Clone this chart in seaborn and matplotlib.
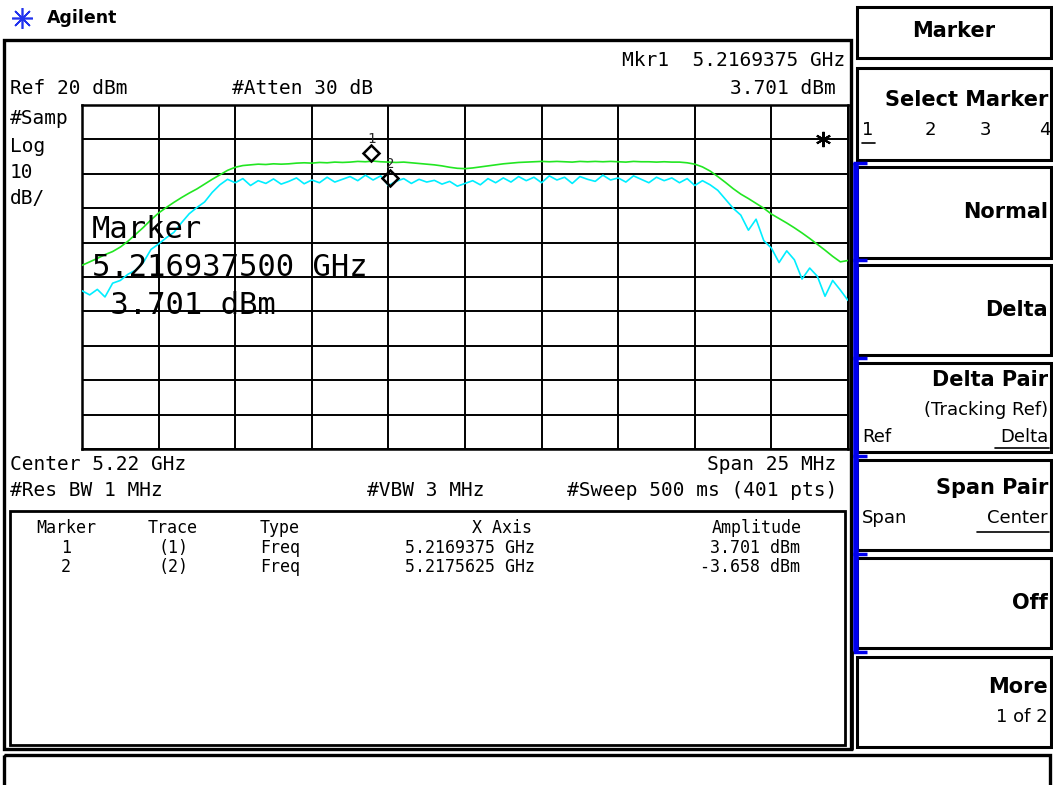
import matplotlib
matplotlib.use('Agg')

import matplotlib.pyplot as plt
import matplotlib.transforms as mtransforms
from matplotlib.patches import Rectangle
import numpy as np
import pandas as pd
import seaborn as sns

# sweep setup (Center 5.22 GHz, Span 25 MHz), 101 of the 401 display points
sweep_start = 5.2075
sweep_stop = 5.2325
n_points = 101

# trace 1 (green) in dBm
trace1_dbm = [
    -26.6, -25.6, -24.6, -23.5, -22.6, -21.3, -19.6, -17.6, -15.6, -13.4,
    -11.4, -9.8, -8.3, -6.9, -5.6, -4.4, -3.0, -1.6, -0.3, 1.0,
    1.9, 2.4, 2.6, 2.8, 2.7, 2.9, 2.8, 2.9, 3.1, 3.2,
    3.1, 3.3, 3.2, 3.4, 3.3, 3.4, 3.6, 3.5, 3.7, 3.5,
    3.4, 3.3, 3.4, 3.2, 3.0, 2.8, 2.6, 2.3, 1.9, 1.6,
    1.5, 1.7, 2.0, 2.3, 2.6, 2.9, 3.1, 3.3, 3.4, 3.5,
    3.6, 3.5, 3.6, 3.5, 3.4, 3.6, 3.5, 3.6, 3.5, 3.6,
    3.5, 3.4, 3.6, 3.5, 3.5, 3.4, 3.5, 3.4, 3.4, 3.2,
    2.8, 2.0, 0.8, -0.8, -2.5, -4.3, -5.9, -7.2, -8.6, -10.0,
    -11.7, -13.0, -14.3, -15.7, -17.2, -18.8, -20.5, -22.2, -24.0, -25.6,
    -25.2,
]

# trace 2 (cyan) in dBm
trace2_dbm = [
    -34.0, -35.2, -33.6, -35.8, -31.8, -31.0, -29.2, -28.0, -25.8, -22.0,
    -20.4, -18.6, -17.0, -14.2, -11.6, -9.8, -8.2, -5.4, -3.2, -1.6,
    -2.6, -1.4, -3.4, -2.0, -2.8, -1.5, -3.0, -2.2, -1.2, -2.9,
    -1.8, -2.6, -1.0, -2.4, -1.6, -0.8, -2.0, -0.4, -1.8, -0.6,
    -3.4, -2.2, -1.4, -2.8, -1.6, -2.4, -1.9, -3.0, -2.2, -3.6,
    -2.8, -2.0, -3.2, -1.4, -2.6, -1.2, -2.4, -0.8, -2.0, -1.0,
    -2.6, -0.6, -1.8, -1.0, -2.8, -0.8, -1.6, -2.2, -0.4, -1.8,
    -1.2, -2.4, -0.6, -1.6, -2.6, -1.0, -2.0, -1.2, -2.6, -1.4,
    -3.4, -2.0, -3.2, -4.8, -7.4, -10.0, -12.0, -16.4, -13.2, -19.4,
    -21.6, -25.8, -22.4, -25.0, -30.6, -27.4, -29.8, -35.6, -31.0, -33.8,
    -36.8,
]

# markers
marker_ids = ['1', '2']
marker_freq = [5.2169375, 5.2175625]
marker_amp = [3.701, -3.658]

ref_level = 20
db_per_div = 10

W, H = 1053, 785
sns.set_style('white')
plt.rcParams['font.family'] = ['DejaVu Sans']
MONO = 'DejaVu Sans Mono'

fig = plt.figure(figsize=(W / 100, H / 100), dpi=100)

# --- trace graticule -------------------------------------------------------
gx0, gy0, gx1, gy1 = 82, 105, 848, 449
ax = fig.add_axes([gx0 / W, 1 - gy1 / H, (gx1 - gx0) / W, (gy1 - gy0) / H])
ax.set_facecolor('white')

freq = np.linspace(sweep_start, sweep_stop, n_points)
df = pd.DataFrame({
    'freq': np.concatenate([freq, freq]),
    'dbm': trace1_dbm + trace2_dbm,
    'trace': ['1'] * n_points + ['2'] * n_points,
})
sns.lineplot(data=df, x='freq', y='dbm', hue='trace',
             palette={'1': '#22e622', '2': '#00eeff'},
             linewidth=1.2, legend=False, ax=ax, zorder=3)

ax.set_xlim(sweep_start, sweep_stop)
ax.set_ylim(ref_level - 10 * db_per_div, ref_level)
ax.set_xticks(np.linspace(sweep_start, sweep_stop, 11))
ax.set_yticks(np.arange(ref_level - 10 * db_per_div, ref_level + 1, db_per_div))
ax.grid(True, color='black', linewidth=1.4)
ax.tick_params(length=0, labelbottom=False, labelleft=False)
ax.set_xlabel('')
ax.set_ylabel('')
for s in ax.spines.values():
    s.set_color('black')
    s.set_linewidth(1.8)

# marker diamonds are drawn just above the marked point
dia_tr = mtransforms.offset_copy(ax.transData, fig=fig, y=8, units='dots')
lab_tr = mtransforms.offset_copy(ax.transData, fig=fig, y=22, units='dots')
for mid, f, a in zip(marker_ids, marker_freq, marker_amp):
    ax.plot([f], [a], marker='D', ms=8, mfc='none', mec='black', mew=1.8,
            transform=dia_tr, zorder=5, clip_on=False)
    ax.text(f, a, mid, transform=lab_tr, ha='center', va='center',
            fontsize=10, family=MONO, zorder=5)

# --- screen furniture in pixel coordinates ---------------------------------
ov = fig.add_axes([0, 0, 1, 1])
ov.set_xlim(0, W)
ov.set_ylim(H, 0)
ov.axis('off')
ov.patch.set_alpha(0)
ov.set_zorder(5)


def box(x0, y0, x1, y1, lw=2.2, color='black'):
    ov.add_patch(Rectangle((x0, y0), x1 - x0, y1 - y0, fill=False,
                           edgecolor=color, linewidth=lw))


def txt(x, y, s, size=14, ha='left', family=MONO, weight='normal'):
    ov.text(x, y, s, fontsize=size, ha=ha, va='center', family=family,
            weight=weight, color='black')


# logo
ov.plot([22], [18], marker=(8, 2, 0), ms=15, color='#2233ee', mew=1.2)
txt(47, 18, 'Agilent', size=12.5, family='DejaVu Sans', weight='bold')

# main display frame, table frame and message line
box(4, 40, 851, 749, lw=2.4)
box(10, 511, 845, 745, lw=2.0)
box(4, 755, 1050, 790, lw=2.4)

# header annotations
txt(845, 60, 'Mkr1  5.2169375 GHz', ha='right')
txt(836, 88, '3.701 dBm', ha='right')
txt(10, 88, 'Ref 20 dBm')
txt(232, 88, '#Atten 30 dB')
txt(10, 118, '#Samp')
txt(10, 147, 'Log')
txt(10, 173, '10')
txt(10, 198, 'dB/')
ov.plot([823], [139], marker=(6, 2, 0), ms=11, color='black', mew=1.5)

# marker readout over the graticule
txt(92, 229, 'Marker', size=22)
txt(92, 268, '5.216937500 GHz', size=22)
txt(92, 306, ' 3.701 dBm', size=22)

# footer annotations
txt(10, 465, 'Center 5.22 GHz')
txt(836, 465, 'Span 25 MHz', ha='right')
txt(10, 490, '#Res BW 1 MHz')
txt(367, 490, '#VBW 3 MHz')
txt(837, 490, '#Sweep 500 ms (401 pts)', ha='right')

# marker table
tsz = 12
txt(66, 528, 'Marker', size=tsz, ha='center')
txt(173, 528, 'Trace', size=tsz, ha='center')
txt(260, 528, 'Type', size=tsz)
txt(502, 528, 'X Axis', size=tsz, ha='center')
txt(757, 528, 'Amplitude', size=tsz, ha='center')
for row_y, mid, f, a in zip([548, 567], marker_ids, marker_freq, marker_amp):
    txt(66, row_y, mid, size=tsz, ha='center')
    txt(173, row_y, '(%s)' % mid, size=tsz, ha='center')
    txt(260, row_y, 'Freq', size=tsz)
    txt(535, row_y, '%.7f GHz' % f, size=tsz, ha='right')
    txt(800, row_y, '%.3f dBm' % a, size=tsz, ha='right')

# --- softkey panel ---------------------------------------------------------
kx0, kx1 = 857, 1051
SANS = 'DejaVu Sans'
box(kx0, 7, kx1, 58)
txt((kx0 + kx1) / 2, 31, 'Marker', size=15, ha='center', family=SANS, weight='bold')

key_rows = [(68, 160), (167, 258), (265, 355), (363, 452), (460, 550),
            (558, 648), (657, 747)]
for y0, y1 in key_rows:
    box(kx0, y0, kx1, y1)

# blue bracket for the active key group
ov.plot([855.5, 855.5], [163, 652], color='#0000ee', linewidth=4,
        solid_capstyle='butt')
for yt in [163, 260, 358, 456, 554, 652]:
    ov.plot([853, 867], [yt, yt], color='#0000ee', linewidth=2.5,
            solid_capstyle='butt')
ov.plot([852, 852], [652, 749], color='black', linewidth=2)

right = 1048
txt(right, 100, 'Select Marker', size=15, ha='right', family=SANS, weight='bold')
for xn, n in zip([868, 930, 985, 1045], ['1', '2', '3', '4']):
    txt(xn, 130, n, size=13, ha='center', family=SANS)
ov.plot([862, 875], [143, 143], color='black', linewidth=1.2)

txt(right, 212, 'Normal', size=15, ha='right', family=SANS, weight='bold')
txt(right, 310, 'Delta', size=15, ha='right', family=SANS, weight='bold')

txt(right, 380, 'Delta Pair', size=15, ha='right', family=SANS, weight='bold')
txt(right, 410, '(Tracking Ref)', size=13, ha='right', family=SANS)
txt(862, 437, 'Ref', size=13, family=SANS)
txt(right, 437, 'Delta', size=13, ha='right', family=SANS)
ov.plot([995, 1049], [448, 448], color='black', linewidth=1.2)

txt(right, 488, 'Span Pair', size=15, ha='right', family=SANS, weight='bold')
txt(862, 518, 'Span', size=13, family=SANS)
txt(right, 518, 'Center', size=13, ha='right', family=SANS)
ov.plot([977, 1049], [532, 532], color='black', linewidth=1.2)

txt(right, 603, 'Off', size=15, ha='right', family=SANS, weight='bold')
txt(right, 687, 'More', size=15, ha='right', family=SANS, weight='bold')
txt(right, 717, '1 of 2', size=13, ha='right', family=SANS)

fig.savefig('out.png', dpi=100, facecolor='white')
